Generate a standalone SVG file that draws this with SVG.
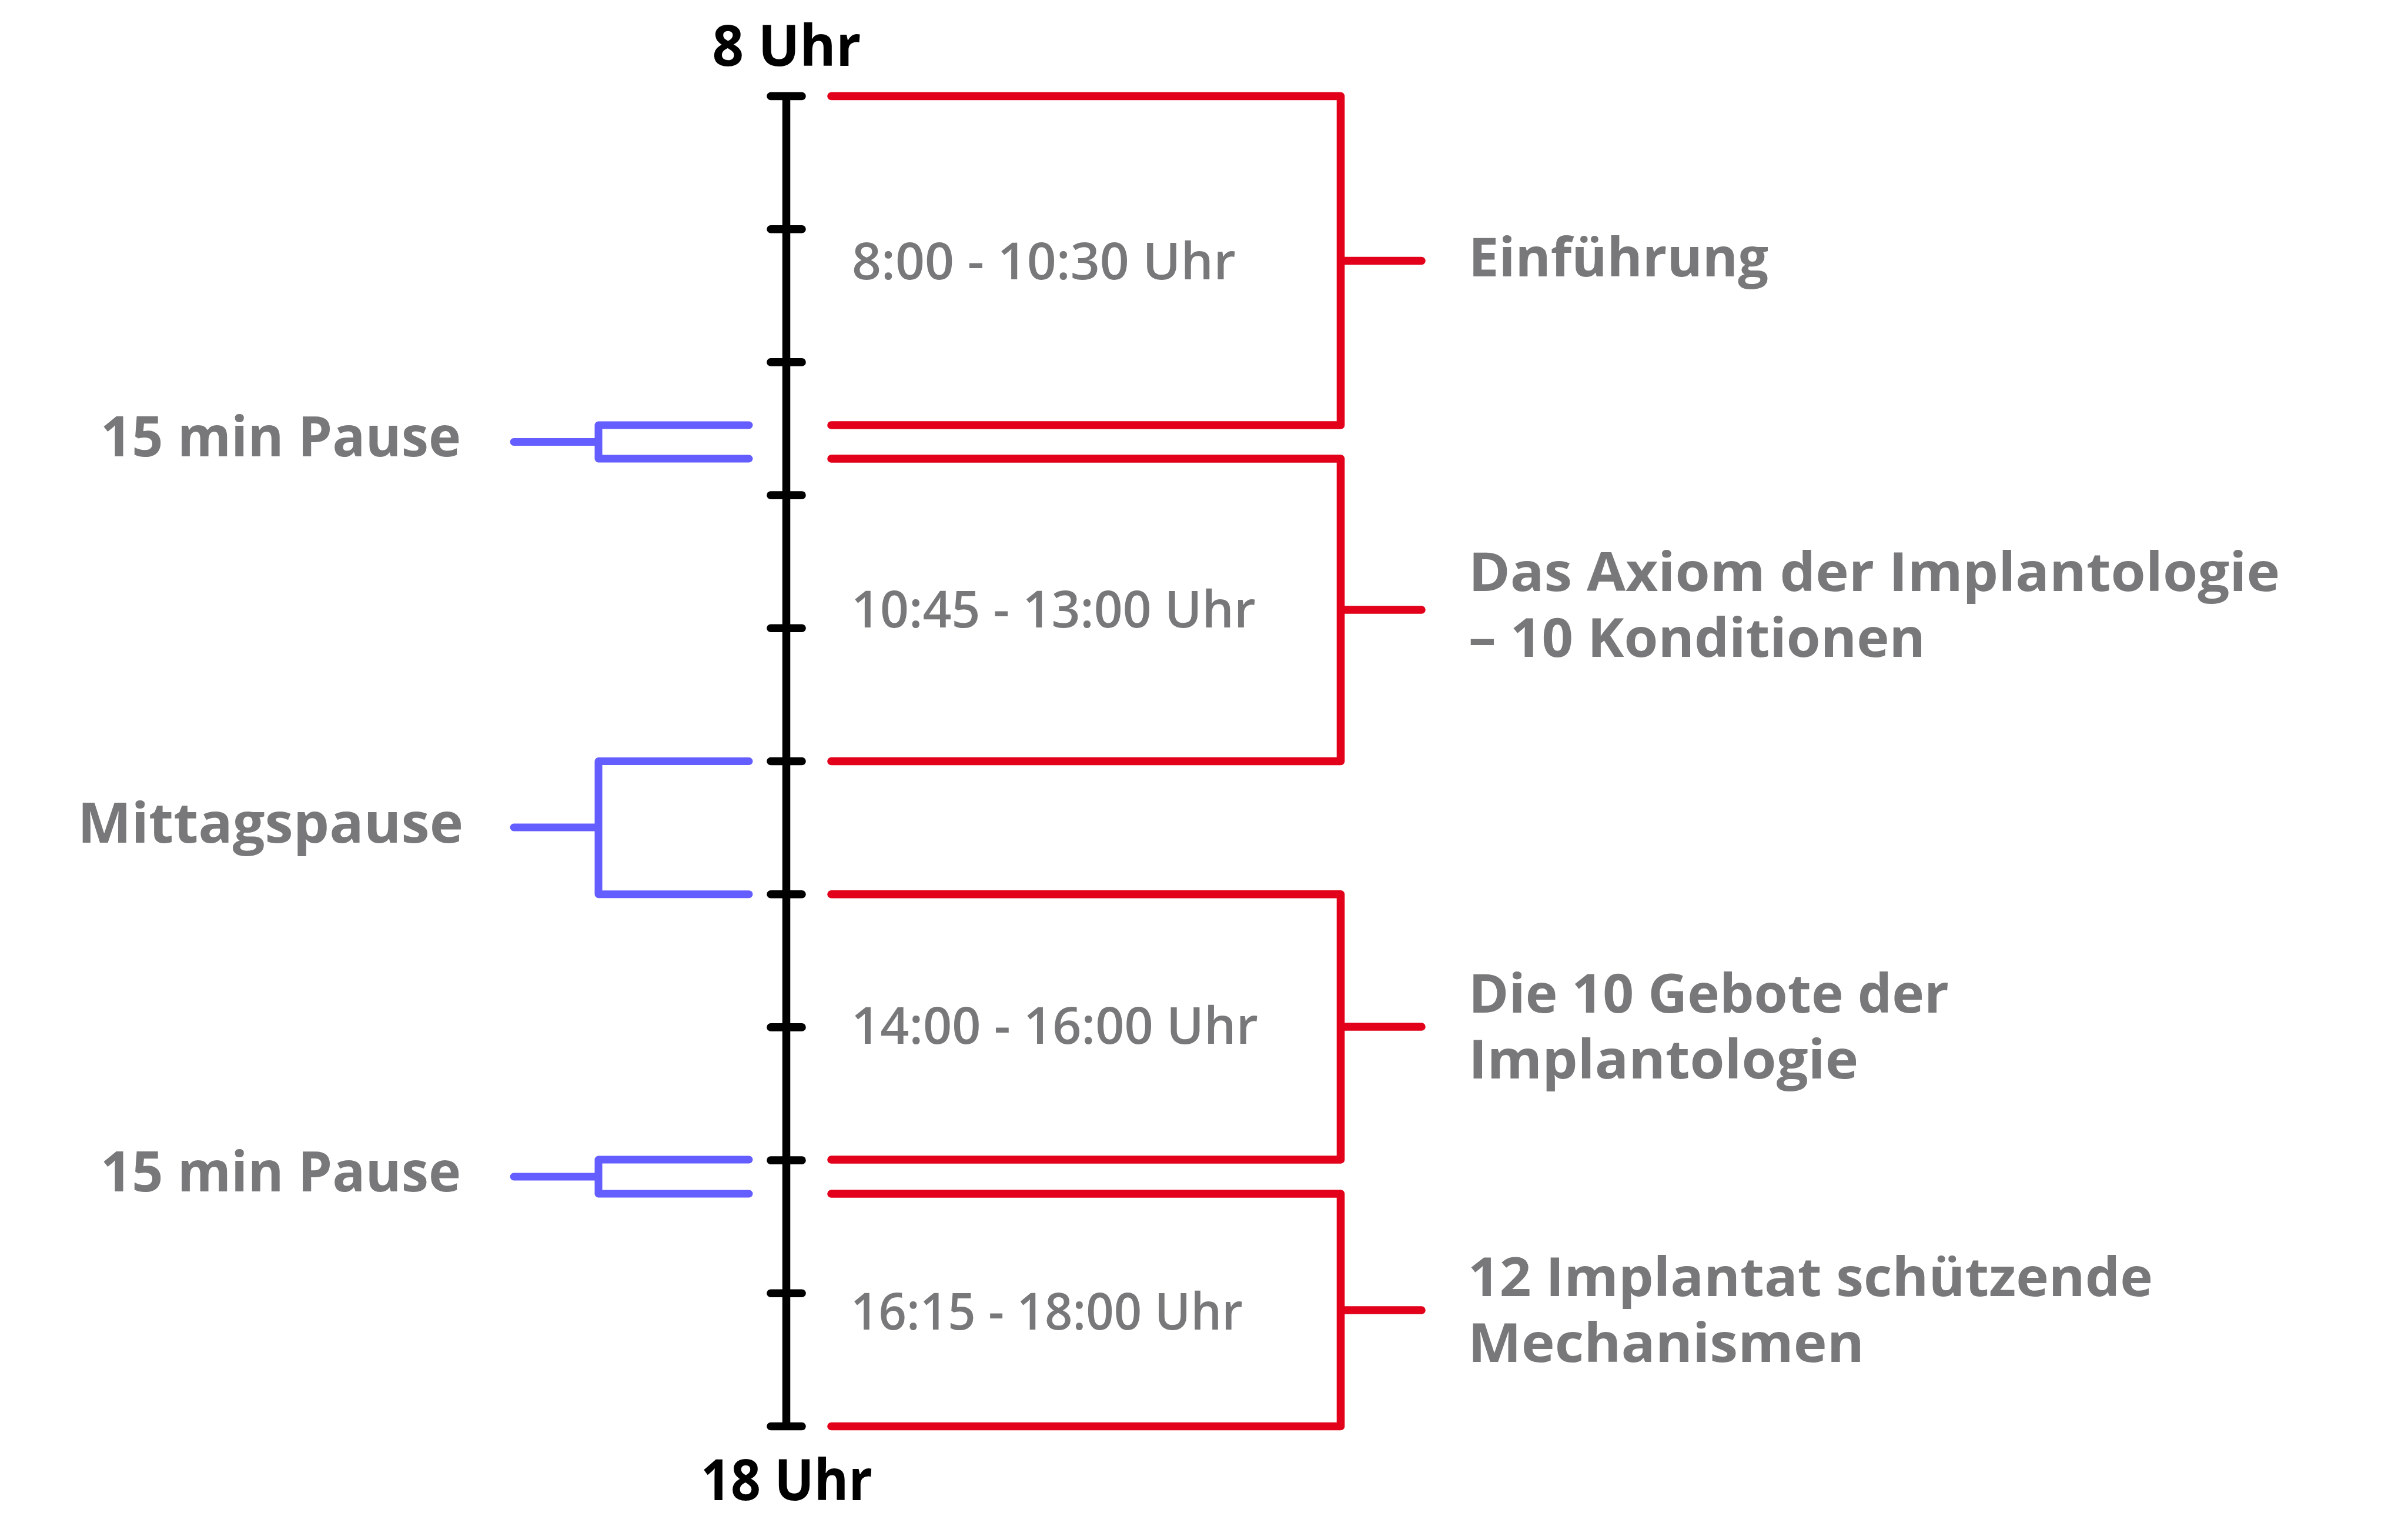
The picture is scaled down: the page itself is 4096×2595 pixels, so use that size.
<svg xmlns="http://www.w3.org/2000/svg" width="4096" height="2595" viewBox="0 0 4096 2595">
<style>
.red{fill:none;stroke:#E2001A;stroke-width:13.6;stroke-linecap:round;stroke-linejoin:round}
.blue{fill:none;stroke:#645DFF;stroke-width:13;stroke-linecap:round;stroke-linejoin:round}
.axis{fill:none;stroke:#000;stroke-width:13.5}
.tick{fill:none;stroke:#000;stroke-width:13.6;stroke-linecap:round}
.lbl{font-family:"Open Sans","Liberation Sans",sans-serif;font-weight:700;fill:#78787A;font-size:91px}
.time{font-family:"Open Sans","Liberation Sans",sans-serif;font-weight:600;fill:#78787A;font-size:87px}
.hour{font-family:"Open Sans","Liberation Sans",sans-serif;font-weight:700;fill:#000;font-size:97px;text-anchor:middle}
.left{font-family:"Open Sans","Liberation Sans",sans-serif;font-weight:700;fill:#78787A;font-size:95px;text-anchor:end}
</style>
<rect width="4096" height="2595" fill="#fff"/>
<g id="axis">
<line class="axis" x1="1337.5" y1="163.5" x2="1337.5" y2="2425.5"/>
<g class="tick">
<line x1="1311" y1="163.5" x2="1364" y2="163.5"/>
<line x1="1311" y1="389.7" x2="1364" y2="389.7"/>
<line x1="1311" y1="615.9" x2="1364" y2="615.9"/>
<line x1="1311" y1="842.1" x2="1364" y2="842.1"/>
<line x1="1311" y1="1068.3" x2="1364" y2="1068.3"/>
<line x1="1311" y1="1294.5" x2="1364" y2="1294.5"/>
<line x1="1311" y1="1520.7" x2="1364" y2="1520.7"/>
<line x1="1311" y1="1746.9" x2="1364" y2="1746.9"/>
<line x1="1311" y1="1973.1" x2="1364" y2="1973.1"/>
<line x1="1311" y1="2199.3" x2="1364" y2="2199.3"/>
<line x1="1311" y1="2425.5" x2="1364" y2="2425.5"/>
</g>
<text class="hour" x="1338" y="112" textLength="253" lengthAdjust="spacingAndGlyphs">8 Uhr</text>
<text class="hour" x="1338" y="2551" textLength="292" lengthAdjust="spacingAndGlyphs">18 Uhr</text>
</g>
<g id="connectors">
<path class="red" d="M1414 163.5H2280.5V723H1414M2280.5 443.5H2418"/>
<path class="red" d="M1414 780H2280.5V1294.5H1414M2280.5 1037H2418"/>
<path class="red" d="M1414 1520.7H2280.5V1972H1414M2280.5 1746H2418"/>
<path class="red" d="M1414 2030H2280.5V2425.5H1414M2280.5 2228H2418"/>
<path class="blue" d="M1274 723H1018V780H1274M1018 751.5H874"/>
<path class="blue" d="M1274 1294.5H1018V1520.7H1274M1018 1407H874"/>
<path class="blue" d="M1274 1972H1018V2030H1274M1018 2001H874"/>
</g>
<g id="block1">
<text class="time" x="1449" y="474.6" textLength="653" lengthAdjust="spacingAndGlyphs">8:00 - 10:30 Uhr</text>
<text class="lbl" x="2498" y="470" textLength="510" lengthAdjust="spacingAndGlyphs">Einführung</text>
</g>
<g id="block2">
<text class="time" x="1448" y="1067" textLength="688" lengthAdjust="spacingAndGlyphs">10:45 - 13:00 Uhr</text>
<text class="lbl"><tspan x="2498" y="1005" textLength="1380" lengthAdjust="spacingAndGlyphs">Das Axiom der Implantologie</tspan><tspan x="2498" y="1117" textLength="777" lengthAdjust="spacingAndGlyphs">– 10 Konditionen</tspan></text>
</g>
<g id="block3">
<text class="time" x="1448" y="1775" textLength="692" lengthAdjust="spacingAndGlyphs">14:00 - 16:00 Uhr</text>
<text class="lbl"><tspan x="2498" y="1722" textLength="817" lengthAdjust="spacingAndGlyphs">Die 10 Gebote der</tspan><tspan x="2498" y="1834" textLength="663" lengthAdjust="spacingAndGlyphs">Implantologie</tspan></text>
</g>
<g id="block4">
<text class="time" x="1447" y="2260.5" textLength="667" lengthAdjust="spacingAndGlyphs">16:15 - 18:00 Uhr</text>
<text class="lbl"><tspan x="2497" y="2204" textLength="1165" lengthAdjust="spacingAndGlyphs">12 Implantat schützende</tspan><tspan x="2497" y="2316" textLength="674" lengthAdjust="spacingAndGlyphs">Mechanismen</tspan></text>
</g>
<g id="pause1">
<text class="left" x="784" y="776" textLength="613" lengthAdjust="spacingAndGlyphs">15 min Pause</text>
</g>
<g id="mittagspause">
<text class="left" x="788" y="1433" textLength="656" lengthAdjust="spacingAndGlyphs">Mittagspause</text>
</g>
<g id="pause2">
<text class="left" x="784" y="2026" textLength="613" lengthAdjust="spacingAndGlyphs">15 min Pause</text>
</g>
</svg>
